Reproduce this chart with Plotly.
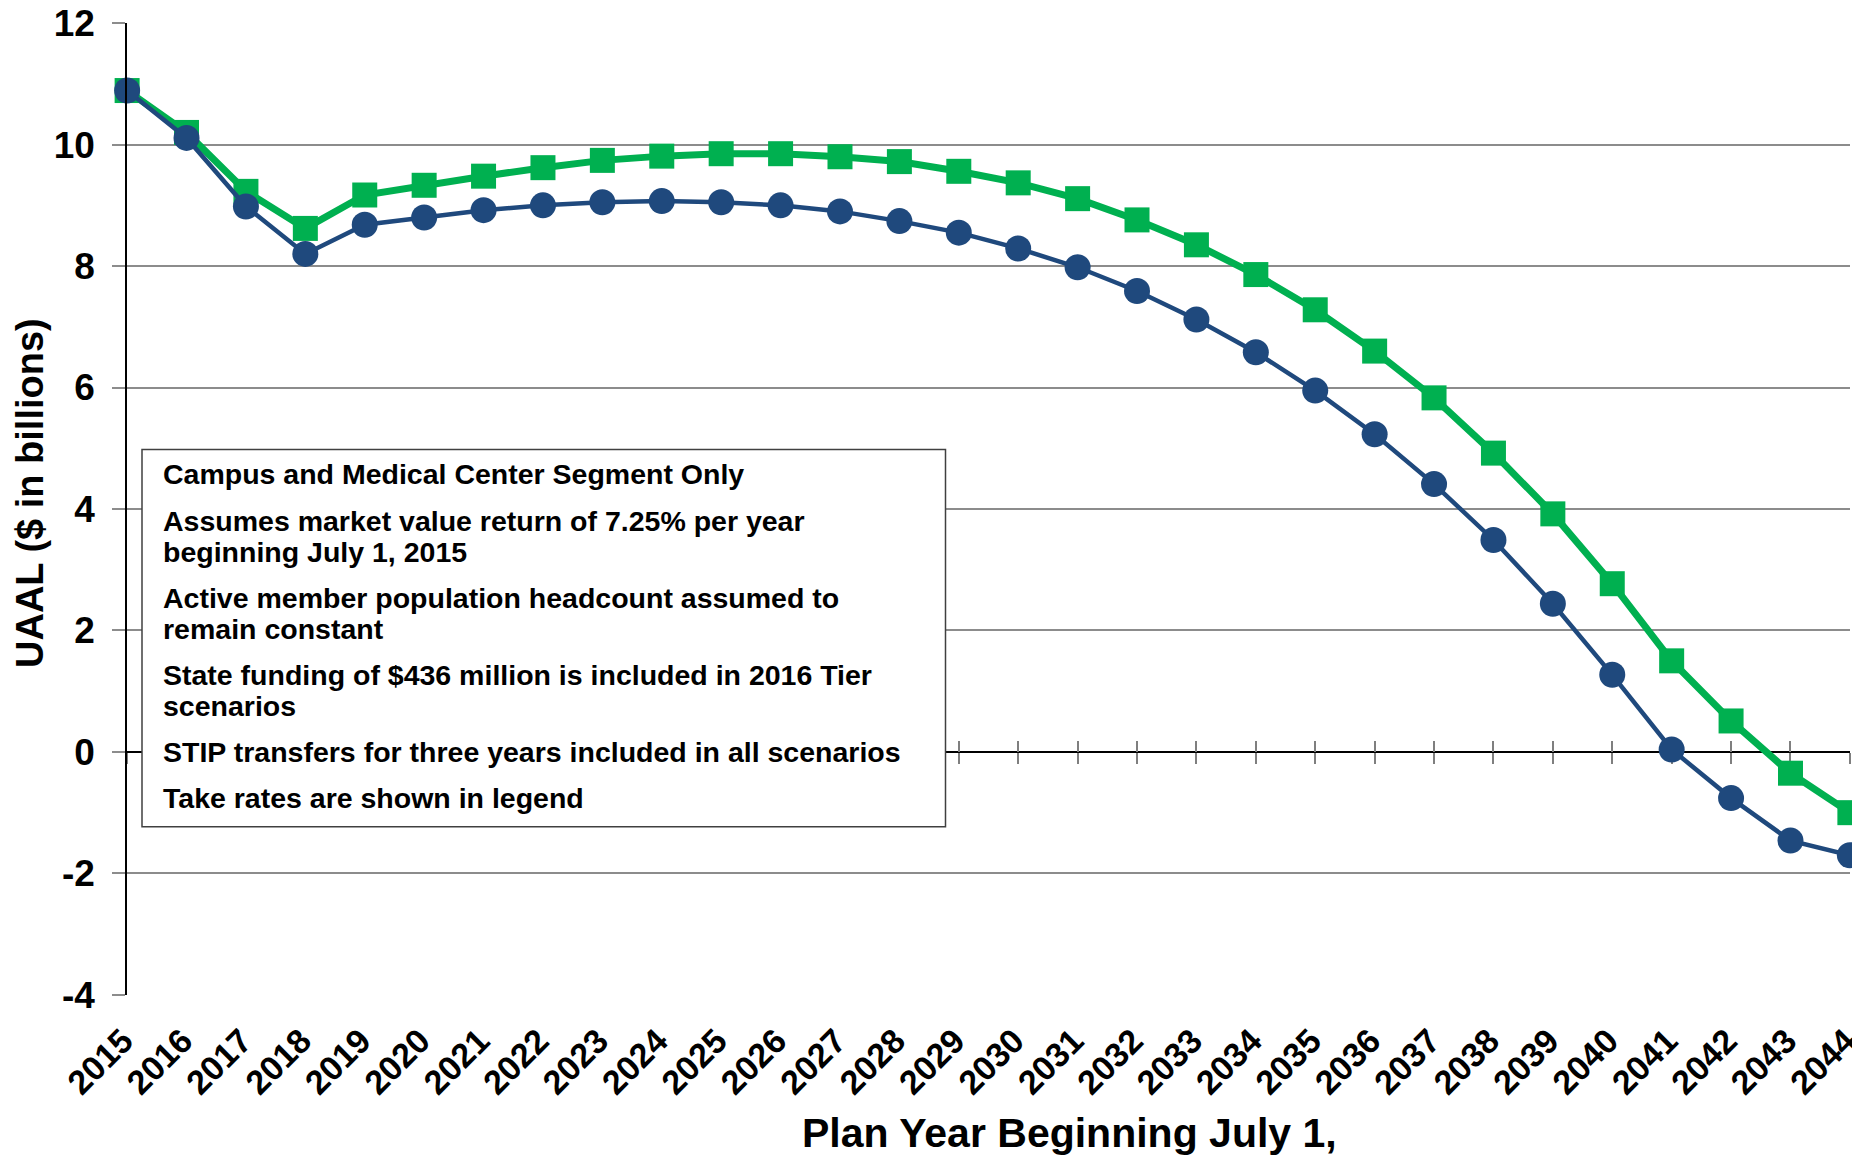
import plotly.graph_objects as go

years = list(range(2015, 2045))
year_labels = [str(y) for y in years]

green_vals = [10.89, 10.20, 9.23, 8.62, 9.17, 9.33, 9.48, 9.62, 9.74, 9.81,
              9.85, 9.85, 9.80, 9.72, 9.56, 9.37, 9.11, 8.76, 8.35, 7.86,
              7.28, 6.60, 5.83, 4.92, 3.92, 2.77, 1.50, 0.51, -0.35, -1.00]
blue_vals = [10.89, 10.11, 8.98, 8.20, 8.68, 8.80, 8.92, 9.00, 9.05, 9.07,
             9.05, 9.00, 8.90, 8.74, 8.55, 8.29, 7.98, 7.59, 7.12, 6.58,
             5.95, 5.23, 4.41, 3.49, 2.44, 1.27, 0.04, -0.76, -1.46, -1.70]

y_ticks = [-4, -2, 0, 2, 4, 6, 8, 10, 12]
y_tick_labels = ["-4", "-2", "0", "2", "4", "6", "8", "10", "12"]

notes = [
    ["Campus and Medical Center Segment Only"],
    ["Assumes market value return of 7.25% per year", "beginning July 1, 2015"],
    ["Active member population headcount assumed to", "remain constant"],
    ["State funding of $436 million is included in 2016 Tier", "scenarios"],
    ["STIP transfers for three years included in all scenarios"],
    ["Take rates are shown in legend"],
]

# page body adds an 8px offset; figure sized to fit the window
OFF = 8
W, H = 1860 - OFF, 1159 - OFF
ML, MR, MT, MB = 127 - OFF, 10, 23 - OFF, 164
PW = W - ML - MR
PH = H - MT - MB
FONT = "Liberation Sans, Arial, Helvetica, sans-serif"
GREEN = "#00B050"
BLUE = "#1F497D"
GRID = "#8C8C8C"


def px_x(px):
    return (px - OFF - ML) / PW


def px_y(py):
    return (H - MB - (py - OFF)) / PH


fig = go.Figure()
fig.add_trace(go.Scatter(
    x=years, y=green_vals, mode="lines+markers",
    line=dict(color=GREEN, width=7),
    marker=dict(symbol="square", size=25, color=GREEN),
    cliponaxis=False, showlegend=False, name="green"))
fig.add_trace(go.Scatter(
    x=years, y=blue_vals, mode="lines+markers",
    line=dict(color=BLUE, width=4.5),
    marker=dict(symbol="circle", size=26, color=BLUE),
    cliponaxis=False, showlegend=False, name="blue"))
# carrier traces for the zero-crossing axis
for ax in ("x2", "x3"):
    fig.add_trace(go.Scatter(x=years, y=[None] * len(years), xaxis=ax,
                             mode="lines", showlegend=False, hoverinfo="skip"))

eps = 0.002
xr = [years[0] - eps, years[-1] + eps]
yr = [y_ticks[0] - eps, y_ticks[-1] + eps]
zero_pos = (0 - yr[0]) / (yr[1] - yr[0])

fig.update_layout(
    width=W, height=H,
    margin=dict(l=ML, r=MR, t=MT, b=MB, autoexpand=False),
    paper_bgcolor="white", plot_bgcolor="white",
    font=dict(family=FONT, color="black"),
    xaxis=dict(
        range=xr, tickmode="array", tickvals=years, ticktext=year_labels,
        tickangle=-45, tickfont=dict(size=34, family=FONT, weight="bold"),
        showgrid=False, zeroline=False, showline=False, ticks="",
        ticklabelstandoff=18, ticklabelshift=-4, automargin=False,
        ticklabeloverflow="allow",
    ),
    xaxis2=dict(
        range=xr, overlaying="x", anchor="free", position=zero_pos,
        tickmode="array", tickvals=years, showticklabels=False,
        showgrid=False, zeroline=False, showline=True, linecolor="black",
        linewidth=1.5, ticks="outside", ticklen=11, tickcolor="#7F7F7F",
        tickwidth=1.5, layer="below traces", automargin=False,
    ),
    xaxis3=dict(
        range=xr, overlaying="x", anchor="free", position=zero_pos,
        tickmode="array", tickvals=years, showticklabels=False,
        showgrid=False, zeroline=False, showline=False,
        ticks="inside", ticklen=11, tickcolor="#7F7F7F",
        tickwidth=1.5, layer="below traces", automargin=False,
    ),
    yaxis=dict(
        range=yr, tickmode="array", tickvals=y_ticks, ticktext=y_tick_labels,
        tickfont=dict(size=37, family=FONT, weight="bold"),
        showgrid=True, gridcolor=GRID, gridwidth=1.5, zeroline=False,
        showline=True, linecolor="black", linewidth=1.5,
        ticks="outside", ticklen=13, tickcolor=GRID, tickwidth=1.5,
        ticklabelstandoff=10, automargin=False, ticklabeloverflow="allow",
    ),
)

# axis titles
fig.add_annotation(
    x=px_x(30), y=px_y(493), xref="paper", yref="paper",
    text="<b>UAAL ($ in billions)</b>", textangle=-90, showarrow=False,
    xanchor="center", yanchor="middle", font=dict(size=38, family=FONT))
fig.add_annotation(
    x=px_x(1069), y=px_y(1133), xref="paper", yref="paper",
    text="<b>Plan Year Beginning July 1,</b>", showarrow=False,
    xanchor="center", yanchor="middle", font=dict(size=41, family=FONT))

# notes box
fig.add_shape(type="rect", xref="paper", yref="paper",
              x0=px_x(142), x1=px_x(945.5), y0=px_y(826.8), y1=px_y(449.6),
              fillcolor="white", line=dict(color="#404040", width=1.5),
              layer="above")
y_line = 474.5
line_gap, para_gap = 31, 46
for i, para in enumerate(notes):
    if i > 0:
        y_line += para_gap - line_gap
    for line in para:
        fig.add_annotation(
            x=px_x(161), y=px_y(y_line), xref="paper", yref="paper",
            text="<b>" + line + "</b>", showarrow=False,
            xanchor="left", yanchor="middle", font=dict(size=28.5, family=FONT))
        y_line += line_gap

fig.write_html("out.html")
